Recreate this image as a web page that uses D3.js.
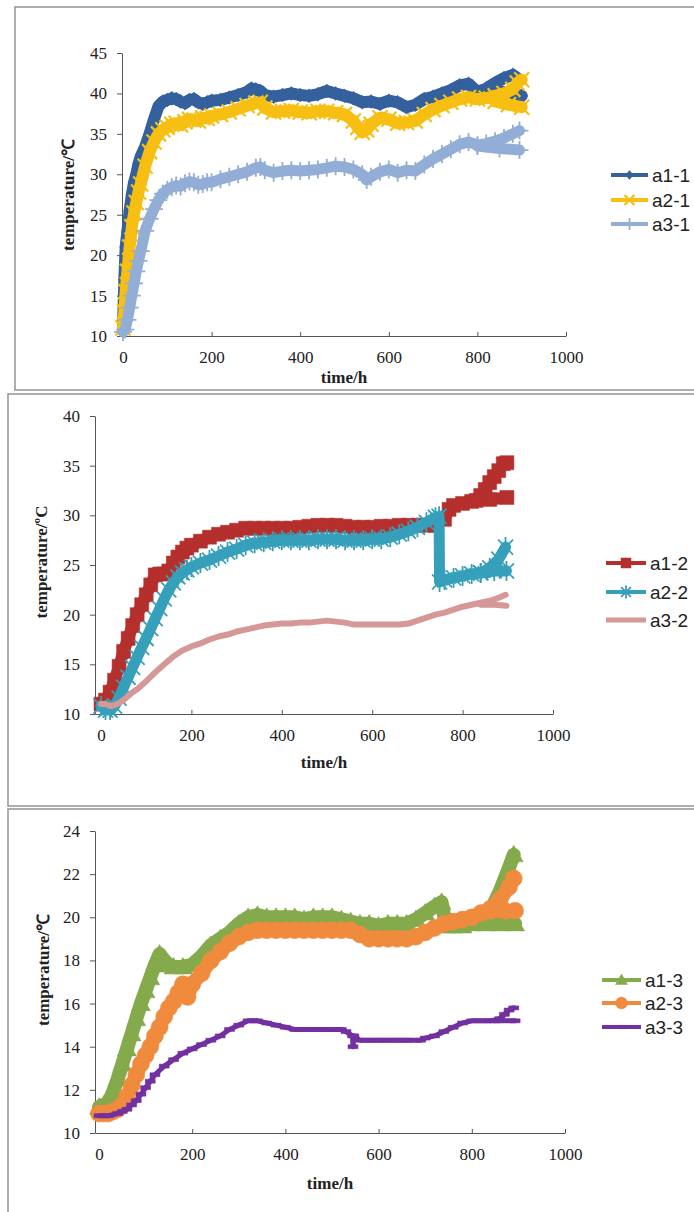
<!DOCTYPE html>
<html>
<head>
<meta charset="utf-8">
<script src="https://cdn.jsdelivr.net/npm/d3@7"></script>
<style>
  body { margin: 0; background: #fff; }
</style>
</head>
<body>
<div id="chart"></div>
<script>
// ---- data: [time (h), temperature] ----
const xTicks = [0, 200, 400, 600, 800, 1000];
const yTicks1 = [10, 15, 20, 25, 30, 35, 40, 45];
const yTicks2 = [10, 15, 20, 25, 30, 35, 40];
const yTicks3 = [10, 12, 14, 16, 18, 20, 22, 24];

const names1 = ["a1-1", "a2-1", "a3-1"];
const names2 = ["a1-2", "a2-2", "a3-2"];
const names3 = ["a1-3", "a2-3", "a3-3"];

const a1_1 = [[0,11],[3,17],[6,21],[10,23],[15,25.5],[20,27.5],[25,29],[30,30],[35,31.3],[40,32.2],[50,33.4],[60,35],[70,36.8],[80,38.4],[90,39],[100,39.2],[110,39.4],[120,39.3],[130,39],[140,38.8],[150,39.2],[160,39.3],[170,38.9],[180,38.7],[190,38.9],[200,39.1],[220,39.2],[240,39.5],[260,39.8],[280,40.2],[290,40.6],[300,40.5],[310,40.3],[320,39.8],[340,39.6],[360,39.8],[380,40],[400,39.8],[420,39.7],[440,39.9],[460,40.3],[480,40],[500,39.7],[520,39.4],[540,38.9],[560,39],[580,38.7],[600,39.1],[620,38.9],[640,38.3],[660,38.6],[680,39.3],[700,39.6],[720,40],[740,40.4],[760,41],[780,41.2],[800,40.2],[820,40.6],[840,41.3],[860,41.9],[880,42.3],[890,41.9]];
const a1_1_end = [[850,40.3],[875,40],[900,39.7]];
const a2_1 = [[0,11],[3,13],[6,15.5],[10,18],[15,21],[20,23.5],[25,25.2],[30,26.5],[35,27.8],[40,28.8],[50,31],[60,32.8],[70,34],[80,35],[90,35.5],[100,35.8],[110,36.2],[120,36.3],[130,36.1],[140,36.5],[150,36.8],[160,36.7],[170,36.6],[180,37],[190,36.9],[200,37.2],[220,37.4],[240,37.7],[260,38.1],[280,38.5],[300,38.8],[310,38.9],[320,38.2],[340,37.7],[360,37.8],[380,37.9],[400,37.7],[420,37.6],[440,37.8],[460,37.8],[480,37.6],[500,37.4],[520,36.6],[530,35.8],[540,35.2],[550,35.5],[560,36.2],[580,37],[600,36.8],[620,36.3],[640,36.4],[660,36.6],[680,37.4],[700,38],[720,38.5],[740,38.9],[760,39.3],[780,39.5],[800,39.3],[820,39.4],[840,39.7],[860,40],[880,40.5],[890,41.3],[900,41.7]];
const a2_1_end = [[840,39],[870,38.6],[900,38.3]];
const a3_1 = [[0,10.5],[5,10.8],[10,12],[15,13.5],[20,15],[25,16.5],[30,18],[35,19.3],[40,20.5],[50,23],[60,24.5],[70,25.7],[80,26.8],[90,27.6],[100,28.1],[110,28.4],[120,28.6],[130,28.5],[140,28.9],[150,29.1],[160,29],[170,28.7],[180,28.8],[190,29],[200,29],[220,29.4],[240,29.7],[260,30],[280,30.3],[300,30.8],[310,30.9],[320,30.5],[340,30.2],[360,30.4],[380,30.5],[400,30.4],[420,30.5],[440,30.6],[460,30.8],[480,31],[500,30.9],[520,30.6],[540,30],[550,29.3],[560,29.7],[580,30.3],[600,30.6],[620,30.2],[640,30.5],[660,30.4],[680,31.2],[700,31.9],[720,32.5],[740,33.1],[760,33.7],[780,34],[800,33.6],[820,33.8],[840,34.1],[860,34.5],[880,35],[895,35.4]];
const a3_1_end = [[800,33.5],[850,33.2],[895,33]];

const a1_2 = [[0,11],[10,11.4],[20,12.2],[30,13.4],[40,14.8],[50,16.3],[60,17.6],[70,18.9],[80,20],[90,21],[100,22],[110,23],[120,24],[130,24.1],[140,24.1],[150,24.4],[160,25.2],[170,25.8],[180,26.3],[190,26.7],[200,27],[220,27.4],[240,27.8],[260,28.1],[280,28.3],[300,28.5],[320,28.7],[340,28.7],[360,28.7],[380,28.7],[400,28.7],[420,28.7],[440,28.8],[460,28.9],[480,29],[500,29],[520,29],[540,28.9],[560,28.8],[580,28.8],[600,28.8],[620,28.9],[640,28.9],[660,29],[680,29],[700,29],[720,29],[740,29],[760,29.6],[770,30.6],[780,31],[800,31.2],[820,31.4],[840,32],[850,32.6],[860,33.3],[870,33.9],[880,34.5],[890,35.2],[898,35.3]];
const a1_2_end = [[830,31.5],[860,31.6],[898,31.8]];
const a2_2 = [[0,10.8],[10,10.4],[20,10.4],[30,10.8],[40,11.6],[50,12.7],[60,13.7],[70,14.7],[80,15.7],[90,16.7],[100,17.6],[110,18.6],[120,19.6],[130,20.6],[140,21.6],[150,22.5],[160,23.2],[170,23.8],[180,24.2],[190,24.5],[200,24.8],[220,25.2],[240,25.5],[260,25.9],[280,26.3],[300,26.6],[320,27],[340,27.2],[360,27.3],[380,27.4],[400,27.5],[420,27.5],[440,27.5],[460,27.5],[480,27.6],[500,27.6],[520,27.6],[540,27.5],[560,27.5],[580,27.5],[600,27.6],[620,27.6],[640,27.8],[660,28.1],[680,28.4],[700,28.8],[720,29.3],[740,29.8],[748,29.9],[749,23.3],[760,23.5],[780,23.7],[800,23.9],[820,24.1],[840,24.2],[860,24.7],[880,25.6],[895,26.8]];
const a2_2_end = [[840,24.2],[870,24.4],[897,24.4]];
const a3_2 = [[0,11],[10,11],[20,10.8],[30,10.9],[40,11.1],[50,11.4],[60,11.8],[70,12.2],[80,12.5],[90,12.9],[100,13.3],[120,14.2],[140,15],[160,15.8],[180,16.4],[200,16.8],[220,17.1],[240,17.5],[260,17.8],[280,18],[300,18.3],[320,18.5],[340,18.7],[360,18.9],[380,19],[400,19.1],[420,19.1],[440,19.2],[460,19.2],[480,19.3],[500,19.4],[520,19.3],[540,19.2],[560,19],[580,19],[600,19],[620,19],[640,19],[660,19],[680,19.1],[700,19.4],[720,19.7],[740,20],[760,20.2],[780,20.5],[800,20.8],[820,21],[840,21.2],[860,21.4],[880,21.7],[895,22]];
const a3_2_end = [[840,21],[870,21],[897,20.9]];

const a1_3 = [[0,11.2],[10,11.3],[20,11.4],[30,11.9],[40,12.5],[50,13.2],[60,13.9],[70,14.6],[80,15.3],[90,16],[100,16.6],[110,17.2],[120,17.8],[130,18.3],[140,18],[150,17.8],[160,17.7],[180,17.7],[200,17.8],[220,18.2],[240,18.7],[260,19],[280,19.3],[300,19.7],[320,20],[340,20.1],[360,20],[380,20],[400,20],[420,20],[440,19.9],[460,20],[480,20],[500,20],[520,19.9],[540,19.8],[560,19.7],[580,19.7],[600,19.6],[620,19.7],[640,19.7],[660,19.7],[680,19.9],[700,20.2],[720,20.5],[735,20.7],[745,19.6],[760,19.6],[780,19.6],[800,19.7],[820,19.8],[840,20.3],[860,21.2],[880,22.3],[890,22.9]];
const a1_3_end = [[830,19.7],[860,19.7],[893,19.7]];
const a2_3 = [[0,10.9],[10,10.9],[20,10.9],[30,11],[40,11.1],[50,11.3],[60,11.7],[70,12.2],[80,12.7],[90,13.2],[100,13.6],[110,14],[120,14.5],[130,14.9],[140,15.4],[150,15.8],[160,16.1],[170,16.5],[180,16.9],[190,16.3],[200,16.9],[220,17.4],[240,18],[260,18.4],[280,18.8],[300,19.1],[320,19.3],[340,19.4],[360,19.4],[380,19.4],[400,19.4],[420,19.4],[440,19.4],[460,19.4],[480,19.4],[500,19.4],[520,19.4],[540,19.4],[560,19.2],[580,19],[600,19],[620,19],[640,19],[660,19],[680,19.1],[700,19.3],[720,19.5],[740,19.7],[760,19.8],[780,19.9],[800,20],[820,20.2],[840,20.4],[860,20.8],[880,21.4],[890,21.8]];
const a2_3_end = [[840,20.3],[870,20.3],[893,20.3]];
const a3_3 = [[0,10.8],[20,10.8],[40,10.9],[50,11],[60,11.1],[70,11.3],[80,11.5],[90,11.8],[100,12.1],[110,12.4],[120,12.7],[140,13.1],[160,13.4],[180,13.7],[200,13.9],[220,14.1],[240,14.3],[260,14.5],[280,14.8],[300,15],[320,15.2],[340,15.2],[360,15.1],[380,15],[400,14.9],[420,14.8],[440,14.8],[460,14.8],[480,14.8],[500,14.8],[520,14.8],[530,14.7],[544,14.5],[545,14],[547,14.5],[560,14.3],[580,14.3],[600,14.3],[620,14.3],[640,14.3],[660,14.3],[690,14.3],[700,14.4],[720,14.5],[740,14.7],[760,14.9],[780,15.1],[800,15.2],[820,15.2],[840,15.2],[860,15.3],[870,15.5],[880,15.7],[890,15.8]];
const a3_3_end = [[850,15.2],[893,15.2]];

// ---- marker shapes (size = r*r) ----
const rr = s => Math.sqrt(s);
const symDiamond = { draw(c, s) { const r = rr(s); c.moveTo(0, -r); c.lineTo(r * 0.85, 0); c.lineTo(0, r); c.lineTo(-r * 0.85, 0); c.closePath(); } };
const symX = { draw(c, s) { const r = rr(s); c.moveTo(-r, -r); c.lineTo(r, r); c.moveTo(-r, r); c.lineTo(r, -r); } };
const symPlus = { draw(c, s) { const r = rr(s); c.moveTo(-r, 0); c.lineTo(r, 0); c.moveTo(0, -r); c.lineTo(0, r); } };
const symSquare = { draw(c, s) { const r = rr(s); c.rect(-r, -r, 2 * r, 2 * r); } };
const symStar = { draw(c, s) { const r = rr(s), k = r * 0.75; c.moveTo(-k, -k); c.lineTo(k, k); c.moveTo(-k, k); c.lineTo(k, -k); c.moveTo(0, -r); c.lineTo(0, r); } };
const symTri = { draw(c, s) { const r = rr(s); c.moveTo(0, -r); c.lineTo(r, r * 0.75); c.lineTo(-r, r * 0.75); c.closePath(); } };
const symCircle = { draw(c, s) { const r = rr(s); c.moveTo(r, 0); c.arc(0, 0, r, 0, 2 * Math.PI); } };
const symDash = { draw(c, s) { const r = rr(s); c.rect(-r, -r * 0.4, 2 * r, r * 0.8); } };

const serif = "'Liberation Serif', 'Times New Roman', serif";

const panels = [
  {
    frame: [15, 7, 700, 383], axisX: 122, x0: 123, x1: 566, yTop: 53, yBot: 336,
    yDomain: [10, 45], yTicks: yTicks1, yLabel: "temperature/\u2103", yLabelPos: [74, 195],
    titleY: 383, names: names1,
    series: [a1_1, a2_1, a3_1], ends: [a1_1_end, a2_1_end, a3_1_end],
    styles: [
      { color: "#34619d", w: 12, sym: symDiamond, r: 7, fill: true, lr: 4.5 },
      { color: "#f7bf12", w: 12, sym: symX, r: 7.5, sw: 2.2, lr: 5 },
      { color: "#93aed6", w: 11, sym: symPlus, r: 9, sw: 1.8, lr: 6 }
    ],
    legend: { x0: 611, x1: 648, tx: 652, ys: [175, 200, 224] }
  },
  {
    frame: [8, 394, 700, 412], axisX: 95, x0: 101, x1: 553, yTop: 416, yBot: 714,
    yDomain: [10, 40], yTicks: yTicks2, yLabel: "temperature/\u00baC", yLabelPos: [47, 562],
    titleY: 768, names: names2,
    series: [a1_2, a2_2, a3_2], ends: [a1_2_end, a2_2_end, a3_2_end],
    styles: [
      { color: "#b5302d", w: 12, sym: symSquare, r: 7, fill: true, lr: 5 },
      { color: "#36a0bb", w: 11, sym: symStar, r: 10, sw: 1.8, lr: 6.5 },
      { color: "#d69896", w: 6, sym: null }
    ],
    legend: { x0: 606, x1: 646, tx: 650, ys: [563, 592, 620] }
  },
  {
    frame: [8, 809, 700, 412], axisX: 95, x0: 99, x1: 565, yTop: 831, yBot: 1133,
    yDomain: [10, 24], yTicks: yTicks3, yLabel: "temperature/\u2103", yLabelPos: [49, 970],
    titleY: 1189, names: names3,
    series: [a1_3, a2_3, a3_3], ends: [a1_3_end, a2_3_end, a3_3_end],
    styles: [
      { color: "#84aa4c", w: 14, sym: symTri, r: 9.5, fill: true, lr: 6 },
      { color: "#f08b3e", w: 14, sym: symCircle, r: 8.5, fill: true, lr: 6 },
      { color: "#7230a0", w: 5, sym: symDash, r: 5, fill: true, lr: 4 }
    ],
    legend: { x0: 602, x1: 641, tx: 645, ys: [980, 1003, 1027] }
  }
];

const svg = d3.select("#chart").append("svg").attr("width", 694).attr("height", 1212);

function markers(g, pts, st, r) {
  if (!st.sym) return;
  const sym = d3.symbol().type(st.sym).size(r * r);
  g.selectAll(null).data(pts).enter().append("path")
    .attr("transform", d => `translate(${d[0]},${d[1]})`)
    .attr("d", sym)
    .attr("fill", st.fill ? st.color : "none")
    .attr("stroke", st.color)
    .attr("stroke-width", st.fill ? 0.5 : st.sw);
}

panels.forEach(p => {
  const g = svg.append("g");
  g.append("rect").attr("x", p.frame[0]).attr("y", p.frame[1])
    .attr("width", p.frame[2]).attr("height", p.frame[3])
    .attr("fill", "none").attr("stroke", "#9a9a9a").attr("stroke-width", 1.6);

  const xs = d3.scaleLinear().domain([0, 1000]).range([p.x0, p.x1]);
  const x = d3.scaleLinear().domain([xs.invert(p.axisX), 1000]).range([p.axisX, p.x1]);
  const y = d3.scaleLinear().domain(p.yDomain).range([p.yBot, p.yTop]);

  const styleAxis = a => {
    a.selectAll("text").attr("fill", "#222")
      .style("font-family", serif).style("font-size", "17px");
    a.selectAll("path, line").attr("stroke", "#555");
  };
  g.append("g").attr("transform", `translate(0,${p.yBot})`)
    .call(d3.axisBottom(x).tickValues(xTicks).tickFormat(d3.format("d"))
      .tickSizeInner(-4).tickSizeOuter(0).tickPadding(15))
    .call(styleAxis)
    .call(a => a.selectAll(".tick line").filter(d => d === 0).remove());
  g.append("g").attr("transform", `translate(${p.axisX},0)`)
    .call(d3.axisLeft(y).tickValues(p.yTicks).tickSizeInner(5).tickSizeOuter(0).tickPadding(10))
    .call(styleAxis);

  const line = d3.line().x(d => x(d[0])).y(d => y(d[1]));
  p.series.forEach((s, i) => {
    const st = p.styles[i];
    const sg = g.append("g");
    [s, p.ends[i]].forEach(part => {
      sg.append("path").attr("d", line(part)).attr("fill", "none")
        .attr("stroke", st.color).attr("stroke-width", st.w)
        .attr("stroke-linejoin", "round").attr("stroke-linecap", "round");
      markers(sg, part.map(d => [x(d[0]), y(d[1])]), st, st.r);
    });

    const L = p.legend, ly = L.ys[i];
    g.append("line").attr("x1", L.x0).attr("x2", L.x1).attr("y1", ly).attr("y2", ly)
      .attr("stroke", st.color).attr("stroke-width", st.sym ? 4 : 5);
    markers(g, [[(L.x0 + L.x1) / 2, ly]], st, st.lr || 0);
    g.append("text").attr("x", L.tx).attr("y", ly).attr("dy", "0.35em")
      .attr("font-family", "'Liberation Sans Narrow', 'Arial Narrow', 'Liberation Sans', sans-serif")
      .attr("font-size", 19).attr("fill", "#222").text(p.names[i]);
  });

  g.append("text").attr("x", (p.axisX + p.x1) / 2).attr("y", p.titleY)
    .attr("text-anchor", "middle").attr("font-family", serif)
    .attr("font-weight", "bold").attr("font-size", 17).attr("fill", "#222").text("time/h");
  g.append("text").attr("transform", `translate(${p.yLabelPos[0]},${p.yLabelPos[1]}) rotate(-90)`)
    .attr("text-anchor", "middle").attr("font-family", serif)
    .attr("font-weight", "bold").attr("font-size", 17).attr("fill", "#222").text(p.yLabel);
});
</script>
</body>
</html>
